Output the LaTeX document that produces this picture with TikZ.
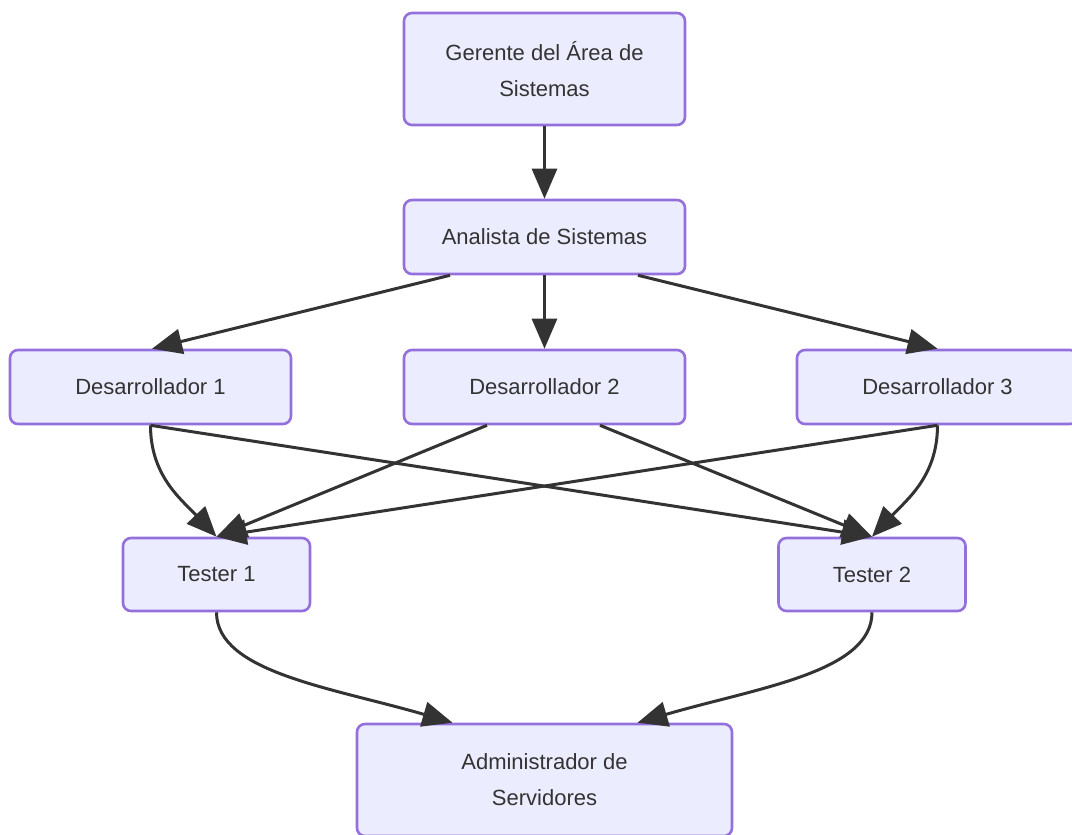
\documentclass[tikz,border=0pt]{standalone}
\usepackage{fontspec}
\setmainfont{Liberation Sans}
\usetikzlibrary{arrows.meta}
\definecolor{boxfill}{HTML}{ECECFF}
\definecolor{boxline}{HTML}{9370DB}
\definecolor{inkgray}{HTML}{333333}
\tikzset{
  role/.style={draw=boxline, fill=boxfill, line width=2.6pt, rounded corners=8pt,
    text=inkgray, align=center, inner sep=0pt,
    font=\fontsize{22}{36}\selectfont},
  wide/.style={role, minimum width=281pt, minimum height=74pt},
  tall/.style={role, minimum width=281pt, minimum height=112pt},
  small/.style={role, minimum width=187pt, minimum height=73pt},
  link/.style={draw=inkgray, line width=3pt,
    -{Triangle[length=30pt,width=25pt]}},
}
\begin{document}
\begin{tikzpicture}[x=1pt, y=-1pt]
\useasboundingbox (0,0) rectangle (1072,835);
\clip (0,0) rectangle (1072,835);

% roles
\node[tall]  (g)  at (544.5,69)  {Gerente del Área de\\Sistemas};
\node[wide]  (a)  at (544.5,237) {Analista de Sistemas};
\node[wide]  (d1) at (150.5,387) {Desarrollador 1};
\node[wide]  (d2) at (544.5,387) {Desarrollador 2};
\node[wide]  (d3) at (937.5,387) {Desarrollador 3};
\node[small] (t1) at (216.5,574.5) {Tester 1};
\node[small] (t2) at (872,574.5)   {Tester 2};
\node[role, minimum width=375pt, minimum height=112pt] (ad) at (544.5,780)
  {Administrador de\\Servidores};

% reporting lines
\draw[link] (g.south) -- (a.north);
\draw[link] ([xshift=-94.5pt]a.south) -- ([xshift=1.5pt]d1.north);
\draw[link] (a.south) -- (d2.north);
\draw[link] ([xshift=93.5pt]a.south) -- (d3.north);

\draw[link] (d1.south) .. controls +(0,50) and +(-36,-38) .. (t1.north);
\draw[link] (d1.south) -- (t2.north);
\draw[link] ([xshift=-57.5pt]d2.south) -- (t1.north);
\draw[link] ([xshift=55.5pt]d2.south) -- (t2.north);
\draw[link] (d3.south) -- (t1.north);
\draw[link] (d3.south) .. controls +(0,50) and +(36,-38) .. (t2.north);

\draw[link] (t1.south) .. controls +(0,60) and +(-120,-35) .. ([xshift=-92pt]ad.north);
\draw[link] (t2.south) .. controls +(0,60) and +(120,-35) .. ([xshift=93pt]ad.north);
\end{tikzpicture}
\end{document}
